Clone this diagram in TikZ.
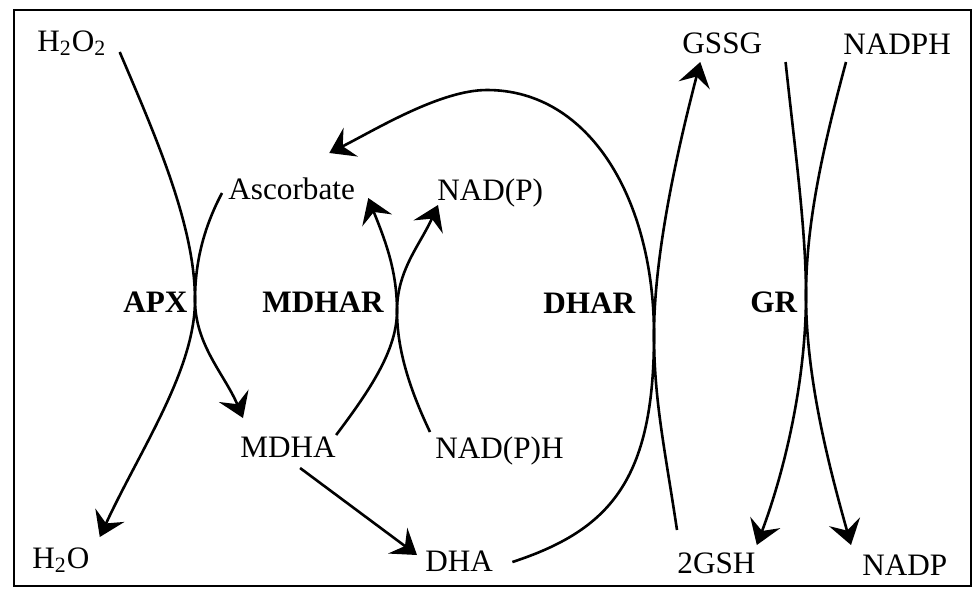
\documentclass[tikz,border=0pt]{standalone}
\usepackage{fontspec}
\setmainfont{Liberation Serif}
\usetikzlibrary{arrows.meta}

\begin{document}
\begin{tikzpicture}[
  x=0.5pt,y=-0.5pt,
  every node/.style={font=\fontsize{15.6}{18}\selectfont,inner sep=0pt,anchor=base west},
  enz/.style={font=\fontsize{15.6}{18}\selectfont\bfseries},
  arr/.style={-{Stealth[length=12pt,width=16pt,inset=4.5pt]},line width=1.3pt},
  ln/.style={line width=1.3pt}
]
\useasboundingbox (0,0) rectangle (974,590);
\draw[line width=1.1pt] (14,10) rectangle (971,586);

% metabolites
\node (h2o2) at (37,51) {H\textsubscript{2}O\textsubscript{2}};
\node (asc) at (228,199) {Ascorbate};
\node (nadp) at (437,200) {NAD(P)};
\node (mdha) at (240,457) {MDHA};
\node (nadph) at (435,458) {NAD(P)H};
\node (h2o) at (32,568) {H\textsubscript{2}O};
\node (dha) at (425,571) {DHA};
\node (gssg) at (682,53) {GSSG};
\node (nadphgr) at (843,54) {NADPH};
\node (gsh) at (677,573) {2GSH};
\node (nadpgr) at (862,575) {NADP};

% enzymes
\node[enz] (apx) at (123,312) {APX};
\node[enz] (mdhar) at (262,312) {MDHAR};
\node[enz] (dhar) at (543,313) {DHAR};
\node[enz] (gr) at (750,312) {GR};

% touching points of the paired curves
\coordinate (kapx) at (195,300);
\coordinate (kmdhar) at (397,311);
\coordinate (kdhar) at (654,335);
\coordinate (kgr) at (806,295);

% APX
\draw[arr] ([shift={(13,1)}]h2o2.base east) .. controls (155,135) and (195,225) .. (kapx)
  .. controls (195,345) and (225,375) .. ([shift={(3,-39)}]mdha.base west);
\draw[arr] ([shift={(-6,-6)}]asc.base west) .. controls (205,225) and (195,260) .. (kapx)
  .. controls (195,370) and (140,450) .. ([shift={(10,-31)}]h2o.base east);

% MDHAR
\draw[arr] ([shift={(0,-22)}]mdha.base east) .. controls (370,390) and (397,350) .. (kmdhar)
  .. controls (397,270) and (385,240) .. ([shift={(13,-1)}]asc.base east);
\draw[arr] ([shift={(-5,-26)}]nadph.base west) .. controls (410,390) and (397,350) .. (kmdhar)
  .. controls (397,270) and (420,245) .. ([shift={(1,5)}]nadp.base west);
\draw[arr] ([shift={(12,11)}]mdha.base) -- ([shift={(-8,-16)}]dha.base west);

% DHAR
\draw[arr] ([shift={(19,-9)}]dha.base east) .. controls (610,530) and (654,480) .. (kdhar)
  .. controls (654,200) and (590,90) .. (487,90)
  .. controls (440,90) and (375,130) .. ([shift={(-26,-46)}]asc.base east);
\draw[arr] ([shift={(0,-43)}]gsh.base west) .. controls (665,450) and (654,400) .. (kdhar)
  .. controls (654,250) and (680,140) .. ([shift={(-22,9)}]gssg.base);

% GR
\draw[arr] ([shift={(23,9)}]gssg.base east) .. controls (795,150) and (806,230) .. (kgr)
  .. controls (806,380) and (785,470) .. ([shift={(1,-28)}]gsh.base east);
\draw[arr] ([shift={(3,8)}]nadphgr.base west) .. controls (825,140) and (806,220) .. (kgr)
  .. controls (806,380) and (830,470) .. ([shift={(-11,-30)}]nadpgr.base west);
\end{tikzpicture}
\end{document}
